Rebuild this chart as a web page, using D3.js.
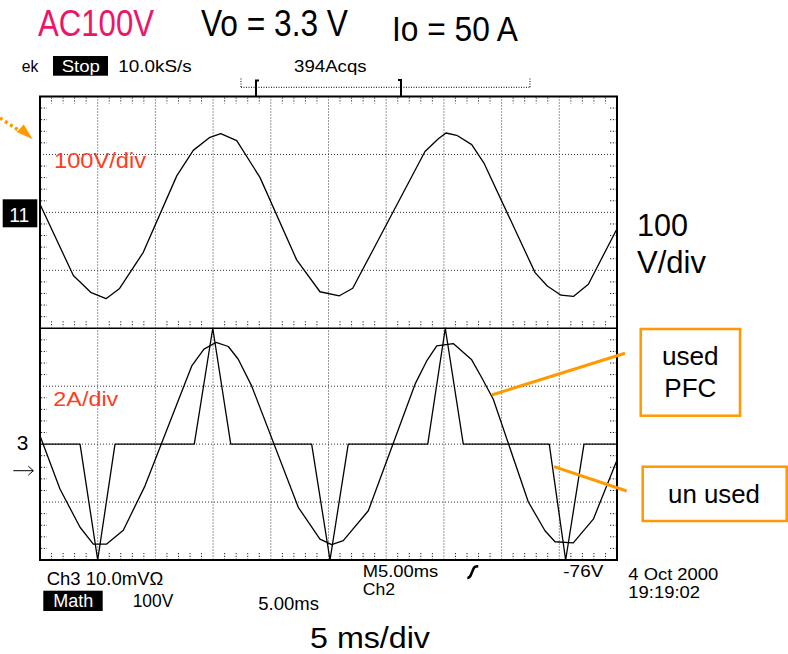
<!DOCTYPE html>
<html><head><meta charset="utf-8">
<script src="https://cdn.jsdelivr.net/npm/d3@7"></script>
<style>html,body{margin:0;padding:0;background:#fff}svg{display:block}</style>
</head><body>
<script>
// ---- data ----
// Top trace: mains voltage (Math), time in ms, volts
const voltTime = [0, 2.89, 4.39, 5.72, 6.87, 8.95, 11.85, 13.28, 14.67, 15.66, 17.05, 19.07, 22.24, 24.26, 25.94, 27.10, 28.88, 33.36, 34.52, 35.18, 36.11, 37.41, 38.50, 42.90, 43.96, 45.15, 46.22, 47.52, 49.98];
const voltValue = [14, -109, -138, -149, -132, -69, 63, 107, 129, 136, 124, 60, -82, -137, -144, -131, -64, 105, 127, 137, 133, 117, 84, -104, -127, -143, -145, -124, -29];
// Bottom trace 1: input current with PFC (A)
const pfcTime = [0, 1.73, 3.47, 4.62, 5.78, 7.22, 9.10, 13.15, 14.21, 15.25, 16.32, 17.18, 18.34, 22.38, 24.26, 25.28, 26.28, 28.45, 32.50, 33.51, 34.38, 35.81, 37.41, 38.27, 39.28, 42.31, 43.76, 44.63, 46.21, 47.95, 49.97];
const pfcAmp = [0.29, -1.55, -2.87, -3.45, -3.45, -2.97, -1.44, 2.70, 3.28, 3.51, 3.37, 2.93, 2.01, -2.18, -3.28, -3.47, -3.33, -2.30, 2.07, 2.87, 3.39, 3.47, 2.91, 2.30, 1.55, -1.99, -2.99, -3.37, -3.41, -2.59, -0.58];
// Bottom trace 2: input current without PFC (A, clipped at screen edge)
const rawTime = [0, 3.47, 5.00, 6.50, 13.37, 14.97, 16.53, 23.54, 25.13, 26.71, 33.60, 35.12, 36.68, 44.13, 45.55, 47.14, 50];
const rawAmp = [0, 0, -4, 0, 0, 4, 0, 0, -4, 0, 0, 4, 0, 0, -4, 0, 0];
// graticule: 10 x 8 divisions, 5 minor per division
const xDivisions = 10, yDivisions = 8, minorPerDiv = 5;

// ---- layout ----
const W = 788, H = 654;
const X0 = 40, X1 = 617, Y0 = 96.5, Y1 = 560, YM = (Y0 + Y1) / 2;
const FONT = "'Liberation Sans', Arial, Helvetica, sans-serif";
const ORANGE = "#ff9900";

const svg = d3.select("body").append("svg").attr("width", W).attr("height", H);

const x = d3.scaleLinear().domain([0, 50]).range([X0, X1]);
const yV = d3.scaleLinear().domain([-200, 200]).range([YM, Y0]);
const yI = d3.scaleLinear().domain([-4, 4]).range([Y1, YM]);
const gx = d3.scaleLinear().domain([0, xDivisions]).range([X0, X1]);
const gy = d3.scaleLinear().domain([0, yDivisions]).range([Y0, Y1]);

// ---- graticule ----
const grid = svg.append("g").attr("stroke", "#333").attr("stroke-width", 1);
d3.range(1, xDivisions).forEach(k => {
  grid.append("line").attr("x1", gx(k)).attr("x2", gx(k)).attr("y1", Y0).attr("y2", Y1)
    .attr("stroke-dasharray", "1,2");
});
d3.range(1, yDivisions).forEach(k => {
  const l = grid.append("line").attr("x1", X0).attr("x2", X1).attr("y1", gy(k)).attr("y2", gy(k));
  if (k === yDivisions / 2) l.attr("stroke", "#000").attr("stroke-width", 1.6);
  else l.attr("stroke-dasharray", "1,2");
});
const ticks = svg.append("g").attr("stroke", "#222").attr("stroke-width", 1).attr("stroke-dasharray", "1.2,1.6");
d3.range(0, xDivisions * minorPerDiv + 1).filter(j => j % minorPerDiv !== 0).forEach(j => {
  const xx = gx(j / minorPerDiv);
  [[Y0 + 1, Y0 + 7], [Y1 - 7, Y1 - 1], [YM - 7, YM - 1]].forEach(([a, b]) =>
    ticks.append("line").attr("x1", xx).attr("x2", xx).attr("y1", a).attr("y2", b));
});
d3.range(0, yDivisions * minorPerDiv + 1).filter(j => j % minorPerDiv !== 0).forEach(j => {
  const yy = gy(j / minorPerDiv);
  [[X0 + 1, X0 + 7], [X1 - 7, X1 - 1]].forEach(([a, b]) =>
    ticks.append("line").attr("x1", a).attr("x2", b).attr("y1", yy).attr("y2", yy));
});
svg.append("rect").attr("x", X0).attr("y", Y0).attr("width", X1 - X0).attr("height", Y1 - Y0)
  .attr("fill", "none").attr("stroke", "#000").attr("stroke-width", 2);

// ---- traces ----
const traces = svg.append("g").attr("fill", "none").attr("stroke", "#000").attr("stroke-width", 1.3)
  .attr("stroke-linejoin", "round");
traces.append("path").attr("d", d3.line().x((d, i) => x(voltTime[i])).y(d => yV(d))(voltValue));
traces.append("path").attr("d", d3.line().x((d, i) => x(pfcTime[i])).y(d => yI(d))(pfcAmp));
traces.append("path").attr("d", d3.line().x((d, i) => x(rawTime[i])).y(d => yI(d))(rawAmp));

// ---- text helper ----
function txt(xp, yp, s, size, width, color, anchor) {
  const t = svg.append("text").attr("x", xp).attr("y", yp).text(s)
    .attr("font-family", FONT).attr("font-size", size).attr("fill", color || "#000")
    .attr("text-anchor", anchor || "start");
  if (width) t.attr("textLength", width).attr("lengthAdjust", "spacingAndGlyphs");
  return t;
}

// header
txt(38, 36.4, "AC100V", 36, 116, "#ee1469");
txt(201, 35.7, "Vo = 3.3 V", 36, 147);
txt(392, 41, "Io = 50 A", 35, 126);

// status line
txt(21.7, 72.3, "ek", 16.5, 16.6);
svg.append("rect").attr("x", 53).attr("y", 56).attr("width", 55).attr("height", 19.7).attr("fill", "#000");
txt(61.7, 72.3, "Stop", 16.5, 38.3, "#fff");
txt(118.3, 72.3, "10.0kS/s", 16.5, 73.4);
txt(294, 71.7, "394Acqs", 16.5, 72.7);

// record-window bracket
const br = svg.append("g").attr("stroke", "#000").attr("fill", "none");
br.append("line").attr("x1", 241).attr("x2", 530).attr("y1", 87.3).attr("y2", 87.3).attr("stroke-dasharray", "1,1.5");
br.append("line").attr("x1", 241).attr("x2", 241).attr("y1", 78.5).attr("y2", 87.3).attr("stroke-dasharray", "1,1.5");
br.append("line").attr("x1", 530).attr("x2", 530).attr("y1", 78.5).attr("y2", 87.3).attr("stroke-dasharray", "1,1.5");
br.append("path").attr("d", "M259,80.5 H256 V97").attr("stroke-width", 2);
br.append("path").attr("d", "M398,80 H401 V97").attr("stroke-width", 2);

// left markers
svg.append("rect").attr("x", 2.7).attr("y", 199.3).attr("width", 34.6).attr("height", 28).attr("fill", "#000");
txt(9.3, 221.7, "11", 20, 20, "#fff");
txt(16.7, 450, "3", 20, 11.6);
svg.append("path").attr("d", "M13.3,470.7 H33.3 M28.3,466.2 L33.3,470.7 L28.3,475.2")
  .attr("fill", "none").attr("stroke", "#000").attr("stroke-width", 1);
txt(54, 168.3, "100V/div", 22, 92, "#ff3c1e");
txt(53.3, 406, "2A/div", 21, 65, "#ff3c1e");

// orange dotted arrow (top-left)
svg.append("line").attr("x1", 0).attr("y1", 118).attr("x2", 19).attr("y2", 130.5)
  .attr("stroke", ORANGE).attr("stroke-width", 3.5).attr("stroke-dasharray", "3,3");
svg.append("path").attr("d", "M32.7,139.3 L16.7,132 L23.8,124.5 Z").attr("fill", ORANGE);

// right-side labels
txt(637, 236, "100", 31, 51);
txt(637, 273, "V/div", 31, 69);
const ann = svg.append("g").attr("stroke", ORANGE).attr("fill", "none");
ann.append("rect").attr("x", 640.7).attr("y", 329).attr("width", 99.3).attr("height", 86.7).attr("stroke-width", 2.5);
ann.append("rect").attr("x", 642.7).attr("y", 466.7).attr("width", 144).attr("height", 54.3).attr("stroke-width", 2.5);
ann.append("line").attr("x1", 491.7).attr("y1", 395).attr("x2", 625).attr("y2", 353.3).attr("stroke-width", 3);
ann.append("line").attr("x1", 554).attr("y1", 466.7).attr("x2", 626.7).attr("y2", 491).attr("stroke-width", 3);
txt(690.3, 365, "used", 26, 56.7, "#000", "middle");
txt(690.3, 397, "PFC", 26, 52, "#000", "middle");
txt(714, 503, "un used", 26, 92, "#000", "middle");

// bottom status
txt(46.7, 585, "Ch3 10.0mV\u03A9", 18.5, 116.6);
svg.append("rect").attr("x", 43.3).attr("y", 590.7).attr("width", 59.4).attr("height", 20.3).attr("fill", "#000");
txt(53.3, 606.7, "Math", 18, 40, "#fff");
txt(132.7, 606.7, "100V", 18, 40.6);
txt(258.3, 610, "5.00ms", 18, 60.7);
txt(362.7, 577.3, "M5.00ms", 17, 75.6);
txt(362.7, 595, "Ch2", 17, 32.3);
svg.append("path").attr("d", "M467.3,578 C471,578 470.5,575 472.5,571 C474.2,567 474.5,566.2 478.3,566.2")
  .attr("fill", "none").attr("stroke", "#000").attr("stroke-width", 2.6);
txt(563.3, 577.3, "-76V", 17, 40);
txt(628.3, 579.5, "4 Oct 2000", 16.5, 90);
txt(628.3, 597.8, "19:19:02", 16.5, 71.7);
txt(310, 648, "5 ms/div", 29, 120);
</script>
</body></html>
